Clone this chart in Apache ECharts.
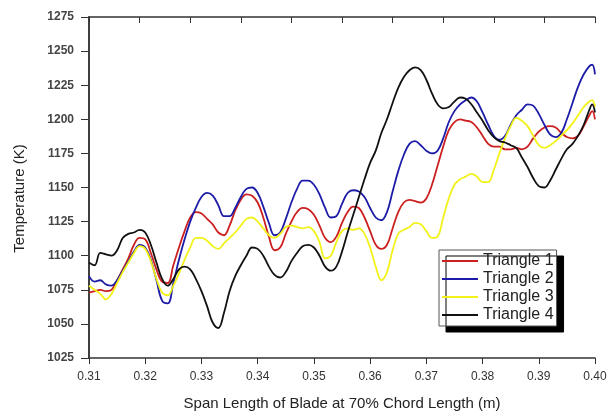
<!DOCTYPE html>
<html><head><meta charset="utf-8">
<script src="https://cdn.jsdelivr.net/npm/echarts@6/dist/echarts.min.js"></script>
<style>html,body{margin:0;padding:0;background:#fff}#c{width:609px;height:413px}</style>
</head><body><div id="c"></div>
<script>
var spanX = [0.310,0.311,0.312,0.313,0.314,0.315,0.316,0.317,0.318,0.319,
0.320,0.321,0.322,0.323,0.324,0.325,0.326,0.327,0.328,0.329,
0.330,0.331,0.332,0.333,0.334,0.335,0.336,0.337,0.338,0.339,
0.340,0.341,0.342,0.343,0.344,0.345,0.346,0.347,0.348,0.349,
0.350,0.351,0.352,0.353,0.354,0.355,0.356,0.357,0.358,0.359,
0.360,0.361,0.362,0.363,0.364,0.365,0.366,0.367,0.368,0.369,
0.370,0.371,0.372,0.373,0.374,0.375,0.376,0.377,0.378,0.379,
0.380,0.381,0.382,0.383,0.384,0.385,0.386,0.387,0.388,0.389,
0.390,0.391,0.392,0.393,0.394,0.395,0.396,0.397,0.398,0.399,0.3995,0.400];

var triangle1 = [1073,1074,1075,1074,1075,1082,1090,1098,1108,1113,
1112,1102,1090,1081,1080,1093,1106,1118,1128,1132,
1131,1127,1123,1117,1115,1122,1133,1141,1145,1144,
1139,1128,1114,1104,1106,1116,1125,1132,1135,1134,
1130,1122,1113,1110,1114,1124,1132,1136,1135,1128,
1118,1108,1105,1108,1120,1132,1139,1141,1140,1139,
1142,1152,1166,1180,1192,1198,1200,1199,1198,1194,
1188,1182,1180,1180,1178,1178,1179,1178,1180,1186,
1191,1194,1195,1194,1190,1187,1186,1188,1195,1203,1206,1200];

var triangle2 = [1085,1081,1082,1079,1078,1082,1089,1096,1103,1108,
1106,1097,1082,1067,1065,1080,1097,1112,1125,1135,
1143,1146,1144,1137,1129,1129,1135,1143,1149,1150,
1146,1136,1124,1115,1117,1127,1139,1149,1155,1155,
1152,1145,1135,1128,1129,1138,1146,1148,1147,1143,
1135,1128,1126,1132,1147,1162,1174,1182,1184,1181,
1177,1175,1177,1186,1198,1206,1211,1214,1216,1213,
1205,1196,1188,1185,1188,1196,1203,1207,1211,1210,
1204,1196,1189,1187,1190,1200,1212,1224,1233,1239,1240,1233];

var triangle3 = [1078,1075,1072,1068,1072,1080,1088,1095,1102,1107,
1105,1096,1083,1073,1071,1078,1087,1097,1106,1113,
1113,1111,1107,1105,1109,1113,1117,1122,1127,1128,
1125,1120,1115,1113,1116,1121,1122,1121,1120,1121,
1118,1110,1098,1100,1110,1118,1120,1119,1120,1116,
1106,1092,1082,1088,1104,1116,1119,1121,1124,1123,
1118,1113,1114,1128,1142,1152,1156,1158,1160,1158,
1154,1154,1163,1175,1186,1195,1201,1199,1195,1188,
1181,1179,1181,1184,1188,1192,1197,1203,1209,1213,1214,1209];

var triangle4 = [1095,1093,1102,1101,1100,1104,1113,1116,1117,1119,
1117,1108,1095,1083,1078,1083,1090,1092,1090,1083,
1074,1063,1051,1047,1058,1074,1085,1093,1100,1106,
1105,1100,1092,1086,1084,1088,1096,1102,1107,1108,
1106,1100,1092,1089,1092,1103,1117,1130,1143,1156,
1168,1177,1190,1200,1212,1223,1231,1236,1238,1236,
1229,1219,1211,1208,1209,1213,1216,1215,1211,1205,
1199,1192,1187,1184,1183,1181,1179,1172,1165,1157,
1151,1150,1155,1163,1171,1178,1182,1188,1196,1207,1211,1205];

var seriesNames = ['Triangle 1','Triangle 2','Triangle 3','Triangle 4'];
var seriesColors = ['#cc1f1f','#1c1ca8','#f2f21a','#111111'];
var seriesData = [triangle1, triangle2, triangle3, triangle4];

function pairs(ys){ return spanX.map(function(x,i){ return [x, ys[i]]; }); }

var axisCol = '#333';
var fontF = 'Liberation Sans, Arial, sans-serif';
var chart = echarts.init(document.getElementById('c'), null, {renderer:'canvas'});
chart.setOption({
  animation:false,
  backgroundColor:'#fff',
  grid:{left:89, right:14, top:17, bottom:55, containLabel:false, outerBoundsMode:'none'},
  legend:{
    data:seriesNames,
    orient:'vertical',
    left:439, top:250,
    icon:'rect',
    itemWidth:36, itemHeight:2, itemGap:2,
    padding:[3,3,3,3],
    backgroundColor:'#fff',
    borderColor:'#555', borderWidth:1, borderRadius:0,
    shadowColor:'#000', shadowBlur:0, shadowOffsetX:7, shadowOffsetY:6,
    textStyle:{fontFamily:fontF, fontSize:16, lineHeight:16, color:'#222'}
  },
  xAxis:[{
    type:'value', min:0.31, max:0.40, interval:0.01,
    position:'bottom',
    name:'Span Length of Blade at 70% Chord Length (m)',
    nameLocation:'middle', nameGap:38,
    nameTextStyle:{fontFamily:fontF, fontSize:15, color:'#222'},
    axisLine:{show:true, onZero:false, lineStyle:{color:axisCol, width:1.5}},
    axisTick:{show:true, inside:false, length:6, lineStyle:{color:axisCol}},
    axisLabel:{fontFamily:fontF, fontSize:12, color:'#333', margin:13,
      formatter:function(v){return v.toFixed(2);}},
    splitLine:{show:false}
  },{
    type:'value', min:0, max:10, interval:1, position:'top',
    axisLine:{show:true, lineStyle:{color:axisCol, width:1.5}},
    axisTick:{show:true, inside:true, length:6, lineStyle:{color:axisCol}},
    axisLabel:{show:false}, splitLine:{show:false}
  }],
  yAxis:[{
    type:'value', min:1025, max:1275, interval:25, position:'left',
    name:'Temperature (K)', nameLocation:'middle', nameGap:62,
    nameTextStyle:{fontFamily:fontF, fontSize:15, color:'#222', padding:[0,22,0,0]},
    axisLine:{show:true, onZero:false, lineStyle:{color:axisCol, width:1.5}},
    axisTick:{show:true, inside:false, length:8, lineStyle:{color:axisCol}},
    axisLabel:{fontFamily:fontF, fontSize:12, fontWeight:'bold', color:'#444', margin:15,
      formatter:function(v){return String(v);}},
    splitLine:{show:false}
  },{
    type:'value', min:1025, max:1275, interval:25, position:'right',
    axisLine:{show:true, lineStyle:{color:axisCol, width:1.5}},
    axisTick:{show:true, inside:true, length:6, lineStyle:{color:axisCol}},
    axisLabel:{show:false}, splitLine:{show:false}
  }],
  series: seriesNames.map(function(n,i){
    return {name:n, type:'line', xAxisIndex:0, yAxisIndex:0, data:pairs(seriesData[i]),
      smooth:0.4, symbol:'none', lineStyle:{color:seriesColors[i], width:1.8},
      itemStyle:{color:seriesColors[i]}, z:2+i};
  })
});
</script></body></html>
